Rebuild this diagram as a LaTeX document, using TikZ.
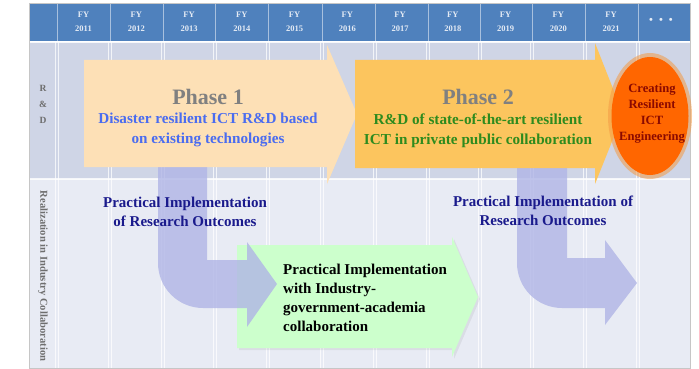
\documentclass[tikz,border=0pt]{standalone}
\usepackage{fontspec}
\setmainfont{Liberation Serif}
\definecolor{headblue}{HTML}{4F81BD}
\definecolor{headtxt}{HTML}{E4EBF5}
\definecolor{rowrd}{HTML}{CFD5E6}
\definecolor{rowlow}{HTML}{E8EBF4}
\definecolor{peach}{HTML}{FDE0B6}
\definecolor{gold}{HTML}{FCC55E}
\definecolor{orng}{HTML}{FF6600}
\definecolor{glow}{HTML}{F39A45}
\definecolor{arrblue}{HTML}{B0B5E6}
\definecolor{lgreen}{HTML}{CCFFCC}
\definecolor{phgray}{HTML}{808080}
\definecolor{p1blue}{HTML}{4A6CF0}
\definecolor{p2green}{HTML}{2E8B1E}
\definecolor{navy}{HTML}{1A1A8C}
\definecolor{dred}{HTML}{8B0A00}
\definecolor{lblgray}{HTML}{6E6E6E}
\tikzset{
  gridline/.style={white, opacity=0.75, line width=0.8pt},
  hdrtext/.style={text=headtxt, font=\fontsize{8.5}{14}\selectfont\bfseries, align=center, inner sep=0pt},
  bluearrow/.style={fill=arrblue, fill opacity=0.8},
  phasetitle/.style={text=phgray, font=\fontsize{22}{24}\selectfont\bfseries, inner sep=0pt},
  phasesub/.style={font=\fontsize{15.2}{19.5}\selectfont\bfseries, align=center, inner sep=0pt},
  impltext/.style={text=navy, font=\fontsize{15}{19.5}\selectfont\bfseries, align=center, inner sep=0pt},
}
\begin{document}
\begin{tikzpicture}[x=1pt,y=-1pt]
\useasboundingbox (0,0) rectangle (699,369);
% table backgrounds
\fill[rowlow] (29,179) rectangle (690,368);
\fill[rowrd] (29,42) rectangle (690,179);
\fill[headblue] (29,3) rectangle (690,41);
% grid lines
\foreach \x in {57,110,163,215,268,322,375,428,480,532,585,638} {
  \draw[gridline] (\x-1.3,42) -- (\x-1.3,368);
  \draw[gridline] (\x+1.3,42) -- (\x+1.3,368);
  \draw[headtxt, opacity=0.6, line width=0.8pt] (\x,3) -- (\x,41);
}
\draw[white, opacity=0.85, line width=1.5pt] (29,42) -- (690,42);
\draw[white, opacity=0.8, line width=1.2pt] (29,179) -- (690,179);
\draw[gray!45, line width=0.6pt] (29,3) rectangle (690,368);
% header labels
\foreach \i/\yr in {0/2011,1/2012,2/2013,3/2014,4/2015,5/2016,6/2017,7/2018,8/2019,9/2020,10/2021} {
  \node[hdrtext] (fy\i) at ({83.5+52.75*\i},22) {FY\\\yr};
}
\node[hdrtext, font=\fontsize{11}{11}\selectfont\bfseries] (fymore) at (661,21) {•\hspace{6pt}•\hspace{6pt}•};
% left labels
\node[text=lblgray, font=\fontsize{9.5}{16}\selectfont\bfseries, align=center, inner sep=0pt] (rdlbl) at (43,104) {R\\\&\\D};
\node[text=lblgray, font=\fontsize{10.6}{12}\selectfont\bfseries, rotate=-90, inner sep=0pt] (reallbl) at (43,276) {Realization in Industry Collaboration};
% green arrow
\fill[black, opacity=0.06] (239,247) -- (454,247) -- (454,239) -- (480,299) -- (454,359) -- (454,350) -- (239,350) -- cycle;
\fill[lgreen] (237,245) -- (452,245) -- (452,237) -- (478,297) -- (452,357) -- (452,348) -- (237,348) -- cycle;
% blue bent arrows
\fill[bluearrow] (158,100) -- (158,263) arc[start angle=180, end angle=90, radius=45] -- (247,308) -- (247,327) -- (277,284) -- (247,242) -- (247,260) -- (207,260) -- (207,100) -- cycle;
\fill[bluearrow] (517,100) -- (517,263) arc[start angle=180, end angle=90, radius=45] -- (605,308) -- (605,325) -- (637,283) -- (605,240) -- (605,258) -- (567,258) -- (567,100) -- cycle;
% phase arrows
\fill[peach] (84,60) -- (327,60) -- (327,45) -- (357,114) -- (327,184) -- (327,167) -- (84,167) -- cycle;
\fill[gold] (355,60) -- (595,60) -- (595,43) -- (623,114) -- (595,184) -- (595,168) -- (355,168) -- cycle;
% ellipse
\fill[glow, opacity=0.55] (650,116) ellipse [x radius=42, y radius=63];
\fill[orng] (650,116) ellipse [x radius=38.5, y radius=59];
% texts
\node[phasetitle] (ph1) at (208,97) {Phase 1};
\node[phasesub, text=p1blue] (ph1sub) at (208,130) {Disaster resilient ICT R\&D based\\on existing technologies};
\node[phasetitle] (ph2) at (478,97) {Phase 2};
\node[phasesub, text=p2green] (ph2sub) at (478,131) {R\&D of state-of-the-art resilient\\ICT in private public collaboration};
\node[text=dred, font=\fontsize{12.6}{16}\selectfont\bfseries, align=center, inner sep=0pt] (creat) at (652,114) {Creating\\Resilient\\ICT\\Engineering};
\node[impltext] (impl1) at (185,212) {Practical Implementation\\of Research Outcomes};
\node[impltext] (impl2) at (543,211) {Practical Implementation of\\Research Outcomes};
\node[text=black, font=\fontsize{15}{19}\selectfont\bfseries, align=left, inner sep=0pt, anchor=north west] (green) at (283,264) {Practical Implementation\\with Industry-\\government-academia\\collaboration};
\end{tikzpicture}
\end{document}
